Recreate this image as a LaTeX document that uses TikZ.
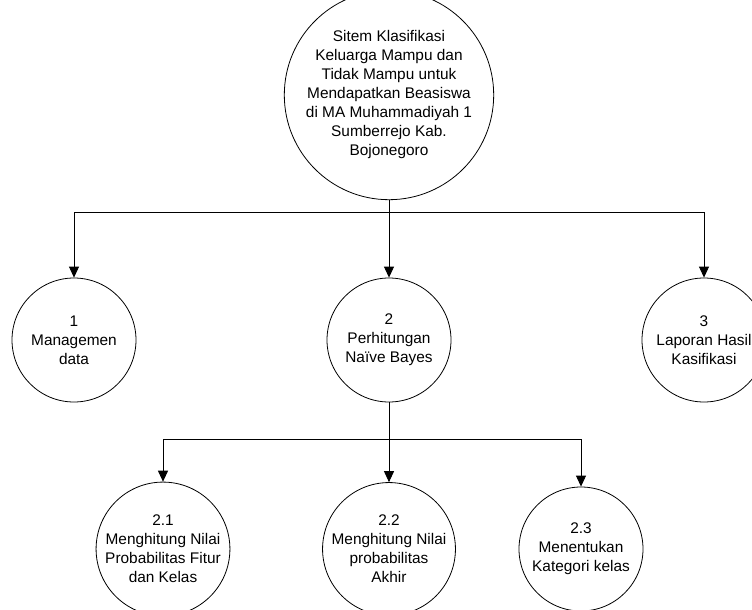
\documentclass[tikz,border=0pt]{standalone}
\usepackage{fontspec}
\setmainfont{Liberation Sans}
\usetikzlibrary{arrows.meta}

\tikzstyle{process} = [circle, draw, line width=0.8pt, inner sep=0pt, align=center, minimum size=124pt, font=\fontsize{15.4}{19}\selectfont]
\tikzstyle{edge} = [draw, line width=0.9pt, -]
\tikzstyle{arrow} = [draw, line width=0.9pt, -{Triangle[width=10pt,length=11pt]}]

\begin{document}
\begin{tikzpicture}[x=1pt, y=-1pt]
       \useasboundingbox (0,0) rectangle (752,610);
       \node[process, minimum size=176pt] (main) at (389,95) {Sitem Klasifikasi\\Keluarga Mampu dan\\Tidak Mampu untuk\\Mendapatkan Beasiswa\\di MA Muhammadiyah 1\\Sumberrejo Kab.\\Bojonegoro};
       \foreach \pos/\name/\txt in {{(74,340)/p1/{1\\Managemen\\data}}, {(389,340)/p2/{2\\Perhitungan\\Naïve Bayes}}, {(704,340)/p3/{3\\Laporan Hasil\\Kasifikasi}}, {(163,549)/p21/{2.1\\Menghitung Nilai\\Probabilitas Fitur\\dan Kelas}}, {(389,549)/p22/{2.2\\Menghitung Nilai\\probabilitas\\Akhir}}, {(581,549)/p23/{2.3\\Menentukan\\Kategori kelas}}} {
           \node[process] (\name) at \pos {\txt};
       }
       \coordinate (split) at (389,212);
       \coordinate (subsplit) at (389,439);
       \path[arrow] (main) -- (p2);
       \path[arrow] (p2) -- (p22);
       \foreach \source/\sink in {split/p1, split/p3, subsplit/p21, subsplit/p23} {
           \path[arrow] (\source) -| (\sink);
       }
\end{tikzpicture}
\end{document}
